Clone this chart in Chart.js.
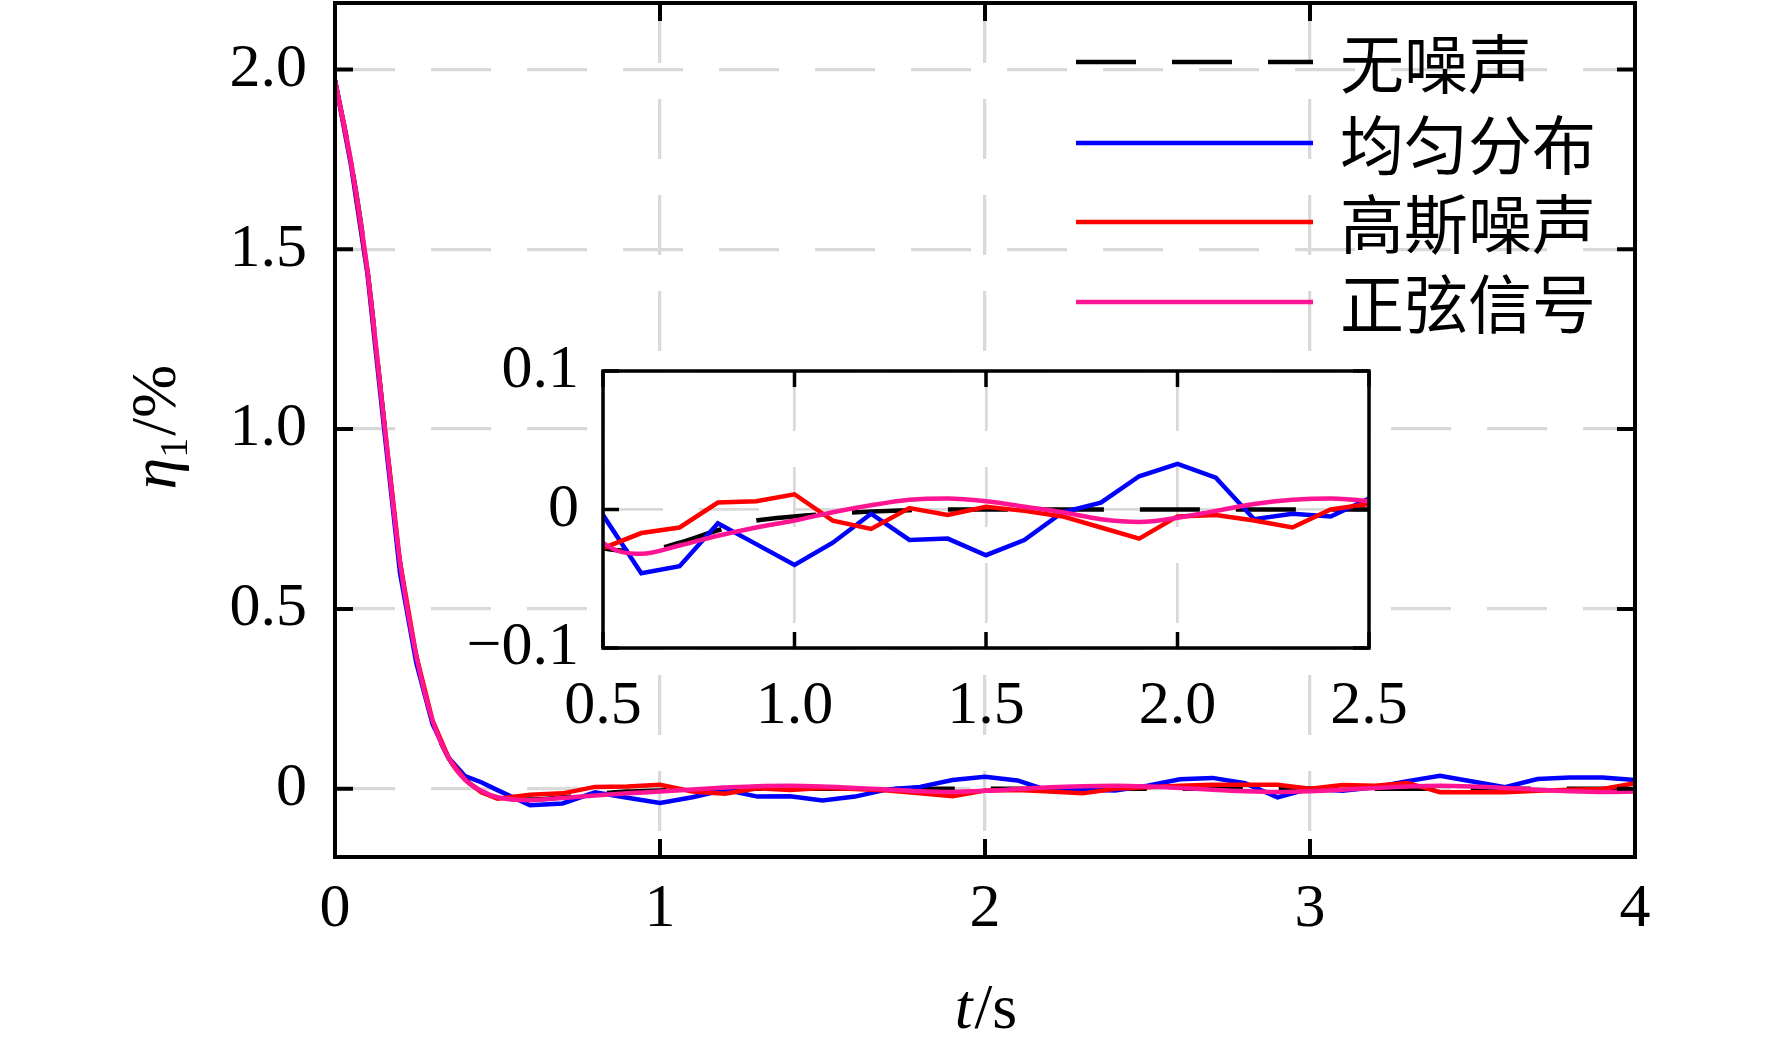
<!DOCTYPE html>
<html>
<head>
<meta charset="utf-8">
<script src="https://cdn.jsdelivr.net/npm/chart.js@4.4.1/dist/chart.umd.min.js"></script>
<style>
  html, body { margin: 0; padding: 0; background: #fff; }
  #wrap { position: relative; width: 1772px; height: 1049px; overflow: hidden; }
  #main { position: absolute; left: 0; top: 0; }
  #inset { position: absolute; left: 380px; top: 290px; }
</style>
</head>
<body>
<div id="wrap">
  <canvas id="main" width="1772" height="1049"></canvas>
  <canvas id="inset" width="1100" height="460"></canvas>
</div>
<script>
// time axis, s
var times = [0, 0.05, 0.1, 0.15, 0.2, 0.25, 0.3, 0.35, 0.4, 0.45, 0.5,
  0.6, 0.7, 0.8, 0.9, 1.0, 1.1, 1.2, 1.3, 1.4, 1.5, 1.6, 1.7, 1.8, 1.9, 2.0,
  2.1, 2.2, 2.3, 2.4, 2.5, 2.6, 2.7, 2.8, 2.9, 3.0, 3.1, 3.2, 3.3, 3.4, 3.5,
  3.6, 3.7, 3.8, 3.9, 4.0];

// eta_1, %
var noNoise = [1.97, 1.74, 1.44, 1.03, 0.63, 0.37, 0.19, 0.085, 0.027, -0.008, -0.028,
  -0.030, -0.024, -0.015, -0.008, -0.005, -0.003, -0.0015, -0.0005, 0, 0, 0, 0, 0, 0, 0,
  0, 0, 0, 0, 0, 0, 0, 0, 0, 0, 0, 0, 0, 0, 0,
  0, 0, 0, 0, 0];
var uniform = [1.97, 1.73, 1.43, 1.01, 0.60, 0.35, 0.18, 0.085, 0.035, 0.018, -0.004,
  -0.046, -0.041, -0.010, -0.025, -0.040, -0.024, -0.003, -0.022, -0.021, -0.033, -0.022, -0.002, 0.005, 0.024, 0.033,
  0.023, -0.007, -0.003, -0.005, 0.008, 0.026, 0.030, 0.015, -0.024, 0.000, -0.006, 0.004, 0.021, 0.036, 0.020,
  0.004, 0.027, 0.031, 0.031, 0.024];
var gaussian = [1.97, 1.74, 1.44, 1.03, 0.63, 0.37, 0.19, 0.085, 0.025, -0.010, -0.028,
  -0.017, -0.013, 0.005, 0.006, 0.011, -0.008, -0.014, 0.001, -0.004, 0.002, -0.001, -0.005, -0.013, -0.021, -0.005,
  -0.004, -0.008, -0.013, 0.000, 0.004, 0.008, 0.011, 0.011, 0.011, 0.000, 0.010, 0.008, 0.016, -0.010, -0.010,
  -0.010, -0.006, -0.003, -0.001, 0.015];
var sine = [1.97, 1.74, 1.44, 1.03, 0.63, 0.37, 0.19, 0.085, 0.025, -0.006, -0.024,
  -0.032, -0.026, -0.019, -0.013, -0.008, -0.002, 0.003, 0.007, 0.008, 0.006, 0.002, -0.002, -0.007, -0.009, -0.006,
  -0.001, 0.004, 0.007, 0.008, 0.006, 0.002, -0.003, -0.007, -0.009, -0.007, -0.003, 0.002, 0.006, 0.008, 0.006,
  0.002, -0.003, -0.007, -0.009, -0.008];

var seriesNames = ['无噪声', '均匀分布', '高斯噪声', '正弦信号'];

var xTicks = [0, 1, 2, 3, 4];
var xTickLabels = ['0', '1', '2', '3', '4'];
var yTicks = [0, 0.5, 1.0, 1.5, 2.0];
var yTickLabels = ['0', '0.5', '1.0', '1.5', '2.0'];

var insetXTicks = [0.5, 1.0, 1.5, 2.0, 2.5];
var insetXTickLabels = ['0.5', '1.0', '1.5', '2.0', '2.5'];
var insetYTicks = [-0.1, 0, 0.1];
var insetYTickLabels = ['\u22120.1', '0', '0.1'];

var SERIF = '"Liberation Serif", "Times New Roman", serif';
var CJK = '"Noto Sans CJK SC", sans-serif';

function toPoints(vals) {
  return times.map(function (t, i) { return {x: t, y: vals[i]}; });
}

function makeDatasets(clip) {
  return [
    {label: seriesNames[0], data: toPoints(noNoise), borderColor: '#000000', borderWidth: 4.5,
      borderDash: [60, 36], cubicInterpolationMode: 'monotone', order: 3, clip: clip},
    {label: seriesNames[1], data: toPoints(uniform), borderColor: '#0000ff', order: 2, clip: clip},
    {label: seriesNames[2], data: toPoints(gaussian), borderColor: '#ff0000', order: 1, clip: clip},
    {label: seriesNames[3], data: toPoints(sine), borderColor: '#ff1493',
      cubicInterpolationMode: 'monotone', order: 0, clip: clip}
  ];
}

// box, inward ticks on all four sides, optional white plot background
var frame = {
  id: 'frame',
  beforeDraw: function (chart, args, opts) {
    if (!opts.fill) return;
    var a = chart.chartArea, ctx = chart.ctx;
    ctx.save();
    ctx.fillStyle = '#ffffff';
    ctx.fillRect(a.left, a.top, a.right - a.left, a.bottom - a.top);
    ctx.restore();
  },
  afterDraw: function (chart, args, opts) {
    var ctx = chart.ctx, a = chart.chartArea;
    var sx = chart.scales.x, sy = chart.scales.y;
    ctx.save();
    ctx.strokeStyle = '#000';
    ctx.lineWidth = opts.tickWidth;
    ctx.beginPath();
    sx.ticks.forEach(function (t) {
      var px = sx.getPixelForValue(t.value);
      ctx.moveTo(px, a.bottom); ctx.lineTo(px, a.bottom - opts.tickLen);
      ctx.moveTo(px, a.top); ctx.lineTo(px, a.top + opts.tickLen);
    });
    sy.ticks.forEach(function (t) {
      var py = sy.getPixelForValue(t.value);
      ctx.moveTo(a.left, py); ctx.lineTo(a.left + opts.tickLen, py);
      ctx.moveTo(a.right, py); ctx.lineTo(a.right - opts.tickLen, py);
    });
    ctx.stroke();
    ctx.lineWidth = opts.border;
    ctx.strokeRect(a.left, a.top, a.right - a.left, a.bottom - a.top);
    ctx.restore();
  }
};

// legend inside the plot and the two axis titles
var decor = {
  id: 'decor',
  afterDraw: function (chart) {
    var ctx = chart.ctx;
    var rows = [62, 143, 222, 302];
    ctx.save();
    chart.data.datasets.forEach(function (ds, i) {
      ctx.strokeStyle = ds.borderColor;
      ctx.lineWidth = ds.borderWidth || 4.5;
      ctx.setLineDash(ds.borderDash || []);
      ctx.beginPath();
      ctx.moveTo(1076, rows[i]);
      ctx.lineTo(1313, rows[i]);
      ctx.stroke();
      ctx.setLineDash([]);
      ctx.fillStyle = '#000';
      ctx.font = '64px ' + CJK;
      ctx.textBaseline = 'middle';
      ctx.textAlign = 'left';
      ctx.fillText(ds.label, 1340, rows[i] + 2);
    });

    // x title: t/s
    ctx.textBaseline = 'alphabetic';
    ctx.textAlign = 'left';
    var fI = 'italic 64px ' + SERIF, fN = '64px ' + SERIF, fS = '40px ' + SERIF;
    ctx.font = fI; var wt = ctx.measureText('t').width;
    ctx.font = fN; var ws = ctx.measureText('/s').width;
    var x0 = 985 - (wt + ws) / 2;
    ctx.font = fI; ctx.fillText('t', x0, 1028);
    ctx.font = fN; ctx.fillText('/s', x0 + wt + 2, 1028);

    // y title: eta_1/%
    ctx.translate(175, 428);
    ctx.rotate(-Math.PI / 2);
    ctx.font = fI; var w1 = ctx.measureText('η').width;
    ctx.font = fS; var w2 = ctx.measureText('1').width;
    ctx.font = fN; var w3 = ctx.measureText('/%').width;
    var y0 = -(w1 + w2 + w3) / 2;
    ctx.font = fI; ctx.fillText('η', y0, 0);
    ctx.font = fS; ctx.fillText('1', y0 + w1, 12);
    ctx.font = fN; ctx.fillText('/%', y0 + w1 + w2 + 2, 0);
    ctx.restore();
  }
};

function axis(min, max, tickVals, tickLabels, pad, size, gridW, horizontal) {
  return {
    type: 'linear',
    min: min,
    max: max,
    afterBuildTicks: function (s) { s.ticks = tickVals.map(function (v) { return {value: v}; }); },
    afterFit: function (s) {
      if (horizontal) s.height = size; else s.width = size;
      // keep the plot box where the layout padding puts it
      s.paddingTop = 0; s.paddingBottom = 0; s.paddingLeft = 0; s.paddingRight = 0;
    },
    grid: {color: '#d9d9d9', lineWidth: gridW, drawTicks: false},
    border: {display: false, dash: [60, 36]},
    ticks: {
      padding: pad, color: '#000', autoSkip: false, maxRotation: 0,
      font: {family: SERIF, size: 62},
      callback: function (v, i) { return tickLabels[i]; }
    }
  };
}

new Chart(document.getElementById('main'), {
  type: 'line',
  data: {datasets: makeDatasets(undefined)},
  options: {
    responsive: false,
    animation: false,
    devicePixelRatio: 1,
    layout: {padding: {left: 0, top: 3, right: 137, bottom: 0}},
    elements: {point: {radius: 0}, line: {borderWidth: 4.5, tension: 0}},
    plugins: {
      legend: {display: false},
      tooltip: {enabled: false},
      frame: {tickLen: 18, tickWidth: 4, border: 4, fill: false}
    },
    scales: {
      x: axis(0, 4, xTicks, xTickLabels, 16, 192, 3.3, true),
      y: axis(-0.19, 2.185, yTicks, yTickLabels, 28, 335, 3.3, false)
    }
  },
  plugins: [frame, decor]
});

new Chart(document.getElementById('inset'), {
  type: 'line',
  data: {datasets: makeDatasets(0)},
  options: {
    responsive: false,
    animation: false,
    devicePixelRatio: 1,
    layout: {padding: {left: 0, top: 81, right: 111, bottom: 0}},
    elements: {point: {radius: 0}, line: {borderWidth: 4.5, tension: 0}},
    plugins: {
      legend: {display: false},
      tooltip: {enabled: false},
      frame: {tickLen: 16, tickWidth: 3.5, border: 3.5, fill: true}
    },
    scales: {
      x: axis(0.5, 2.5, insetXTicks, insetXTickLabels, 22, 102, 2.7, true),
      y: axis(-0.1, 0.1, insetYTicks, insetYTickLabels, 24, 223, 2.7, false)
    }
  },
  plugins: [frame]
});
</script>
</body>
</html>
